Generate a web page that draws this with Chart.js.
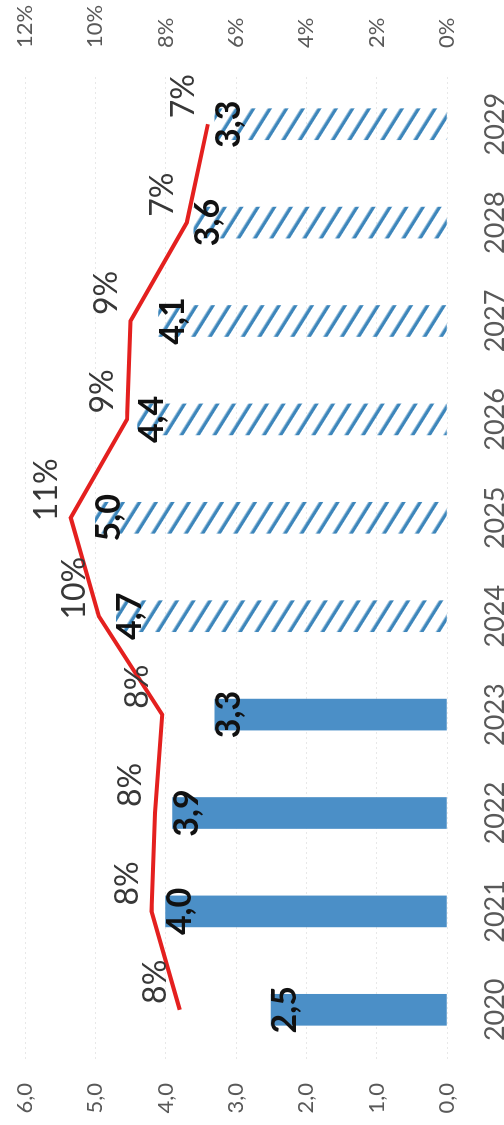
<!DOCTYPE html>
<html lang="ru">
<head>
<meta charset="utf-8">
<title>Объём и доля по годам</title>
<script src="https://cdn.jsdelivr.net/npm/chart.js@4.4.1/dist/chart.umd.min.js"></script>
<style>
  html, body {
    margin: 0;
    padding: 0;
    background: #fff;
    overflow: hidden;
  }
  /* chart is laid out landscape, then turned on its side */
  #wrap {
    position: absolute;
    left: 0;
    top: 0;
    width: 1125px;
    height: 504px;
    transform-origin: 0 0;
    transform: translate(0, 1125px) rotate(-90deg);
  }
</style>
</head>
<body>
<div id="wrap">
  <canvas id="myChart" width="1125" height="504"></canvas>
</div>

<script>
const years = ['2020', '2021', '2022', '2023', '2024', '2025', '2026', '2027', '2028', '2029'];
const volume = [2.5, 4.0, 3.9, 3.3, 4.7, 5.0, 4.4, 4.1, 3.6, 3.3];
const share = [7.6, 8.4, 8.3, 8.1, 9.9, 10.7, 9.1, 9.0, 7.4, 6.8];
const firstForecast = '2024';

const volumeMax = 6;
const shareMax = 12;

const blue = '#4b8fc7';
const stripeBlue = '#3d86bb';
const red = '#e4201f';
const grey = '#595959';

// diagonal stripes for forecast years
function makeHatch(color) {
  let c = document.createElement('canvas');
  c.width = 14;
  c.height = 14;
  let g = c.getContext('2d');
  g.fillStyle = color;
  g.fillRect(0, 0, 3.5, 14);
  let p = g.createPattern(c, 'repeat');
  p.setTransform(new DOMMatrix().rotate(-58));
  return p;
}
const hatch = makeHatch(stripeBlue);

const barColors = years.map(y => y >= firstForecast ? hatch : blue);

function comma(v) {
  return v.toFixed(1).replace('.', ',');
}

// keep the value axes from pushing the plot area down
function fixSide(width) {
  return function (scale) {
    scale.width = width;
    scale.paddingTop = 0;
    scale.paddingBottom = 0;
  };
}

// numbers on the bars and over the line
const valueLabels = {
  id: 'valueLabels',
  afterDatasetsDraw(chart) {
    let ctx = chart.ctx;
    ctx.save();
    ctx.textAlign = 'center';
    ctx.textBaseline = 'middle';

    ctx.font = 'bold 34px Lato';
    ctx.fillStyle = '#111';
    chart.getDatasetMeta(0).data.forEach((bar, i) => {
      ctx.fillText(comma(volume[i]), bar.x, bar.y + 14);
    });

    ctx.font = '32px Lato';
    ctx.fillStyle = '#383838';
    chart.getDatasetMeta(1).data.forEach((pt, i) => {
      ctx.fillText(Math.round(share[i]) + '%', pt.x + 28, pt.y - 24);
    });
    ctx.restore();
  }
};

let myChart = new Chart(document.getElementById('myChart').getContext('2d'), {
  type: 'bar',
  data: {
    labels: years,
    datasets: [
      {
        data: volume,
        yAxisID: 'y',
        backgroundColor: barColors,
        borderWidth: 0,
        barThickness: 31,
        order: 1
      },
      {
        type: 'line',
        data: share,
        yAxisID: 'y1',
        borderColor: red,
        borderWidth: 4,
        pointRadius: 0,
        tension: 0,
        order: 0
      }
    ]
  },
  options: {
    responsive: false,
    animation: false,
    devicePixelRatio: 1,
    layout: { padding: { top: 25, left: 0, right: 0, bottom: 0 } },
    plugins: {
      legend: { display: false },
      tooltip: { enabled: false }
    },
    scales: {
      x: {
        grid: { display: false },
        border: { display: false },
        ticks: {
          color: grey,
          font: { family: 'Lato', size: 27 },
          padding: 24,
          maxRotation: 0
        },
        afterFit(scale) {
          scale.height = 57;
          scale.paddingLeft = 0;
          scale.paddingRight = 0;
        }
      },
      y: {
        position: 'left',
        min: 0,
        max: volumeMax,
        grid: {
          color: 'rgba(0,0,0,0.09)',
          drawTicks: false
        },
        border: { display: false, dash: [2, 3] },
        ticks: {
          stepSize: 1,
          color: grey,
          font: { family: 'Lato', size: 22 },
          padding: 24,
          callback: v => comma(v)
        },
        afterFit: fixSide(66)
      },
      y1: {
        position: 'right',
        min: 0,
        max: shareMax,
        grid: { drawOnChartArea: false, drawTicks: false },
        border: { display: false },
        ticks: {
          stepSize: 2,
          color: grey,
          font: { family: 'Lato', size: 22 },
          padding: 27,
          callback: v => v + '%'
        },
        afterFit: fixSide(75)
      }
    }
  },
  plugins: [valueLabels]
});
</script>
</body>
</html>
